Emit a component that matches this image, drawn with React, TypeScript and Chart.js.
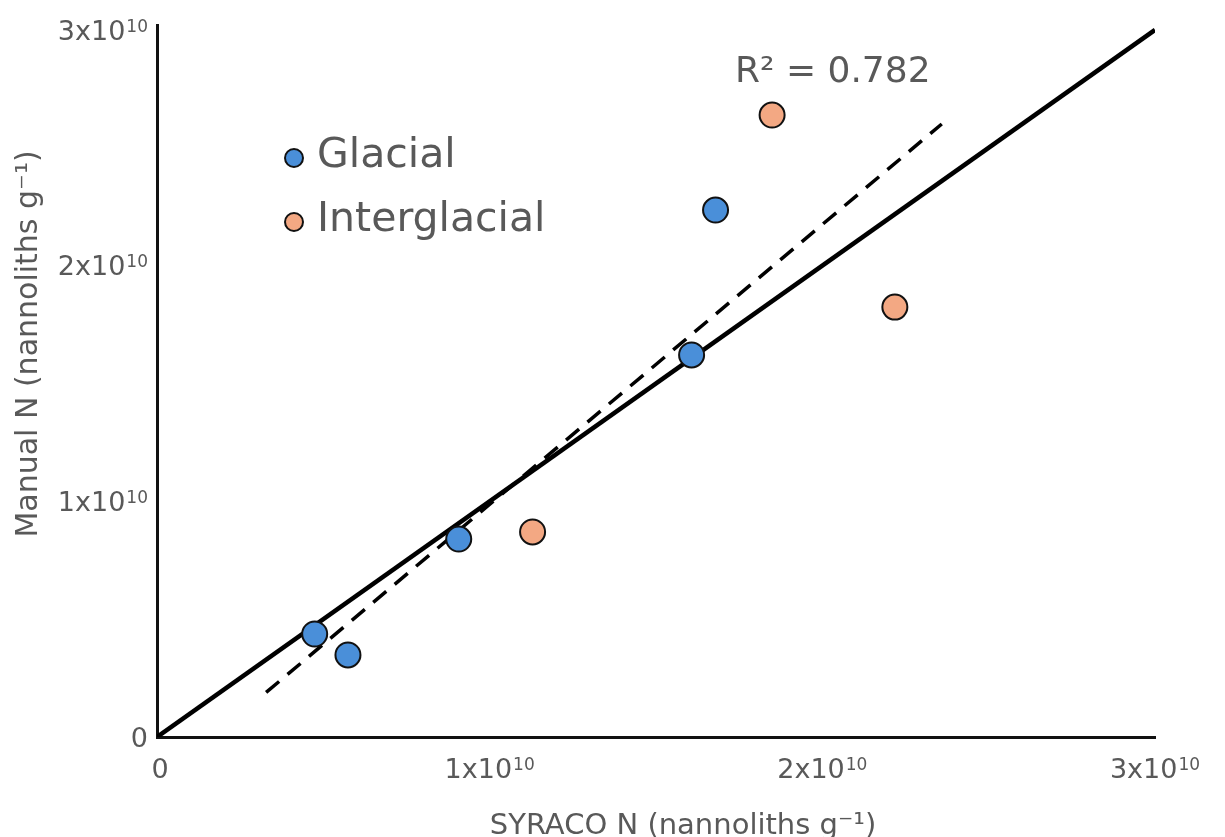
import React, { useEffect, useRef } from "react";
import { Chart, registerables } from "chart.js";

Chart.register(...registerables);

// ---- data ----
const glacialX = [0.474e10, 0.574e10, 0.907e10, 1.607e10, 1.679e10];
const glacialY = [0.437e10, 0.348e10, 0.84e10, 1.621e10, 2.236e10];
const interglacialX = [1.129e10, 1.849e10, 2.218e10];
const interglacialY = [0.87e10, 2.639e10, 1.824e10];
const oneToOneX = [0, 3e10];
const oneToOneY = [0, 3e10];
const fitX = [0.328e10, 2.359e10];
const fitY = [0.189e10, 2.601e10];
const tickValues = [0, 1e10, 2e10, 3e10];
const tickMain = ["0", "1x10", "2x10", "3x10"];
const tickExp = ["", "10", "10", "10"];
const seriesNames = ["Glacial", "Interglacial"];
const r2Label = "R\u00B2 = 0.782";
const xTitle = "SYRACO N (nannoliths g\u207B\u00B9)";
const yTitle = "Manual N (nannoliths g\u207B\u00B9)";

const FONT = "'DejaVu Sans', Verdana, sans-serif";
const TEXT = "#595959";
const BLUE = "#4a8fd9";
const ORANGE = "#f3a883";

const pts = (xs: number[], ys: number[]) => xs.map((x, i) => ({ x, y: ys[i] }));

const MAIN_SIZE = 27;
const SUP_SIZE = 17;

function drawTick(ctx: any, i: number, anchorX: number, baseline: number, align: "center" | "right") {
  ctx.font = `${MAIN_SIZE}px ${FONT}`;
  const wMain = ctx.measureText(tickMain[i]).width;
  ctx.font = `${SUP_SIZE}px ${FONT}`;
  const wSup = tickExp[i] ? ctx.measureText(tickExp[i]).width + 1 : 0;
  const total = wMain + wSup;
  const left = align === "center" ? anchorX - total / 2 : anchorX - total;
  ctx.textAlign = "left";
  ctx.textBaseline = "alphabetic";
  ctx.font = `${MAIN_SIZE}px ${FONT}`;
  ctx.fillText(tickMain[i], left, baseline);
  if (tickExp[i]) {
    ctx.font = `${SUP_SIZE}px ${FONT}`;
    ctx.fillText(tickExp[i], left + wMain + 1, baseline - 0.73 * (MAIN_SIZE - SUP_SIZE) - 1);
  }
}

const annotPlugin = {
  id: "annot",
  afterDraw(chart: any) {
    const ctx = chart.ctx;
    const xs = chart.scales.x;
    const ys = chart.scales.y;
    ctx.save();
    ctx.fillStyle = TEXT;
    // tick labels
    tickValues.forEach((v, i) => {
      const px = xs.getPixelForValue(v);
      drawTick(ctx, i, px + (i === 0 ? 3 : 0), xs.top + 41, "center");
      const py = ys.getPixelForValue(v);
      drawTick(ctx, i, ys.right - 9, py + 0.365 * MAIN_SIZE, "right");
    });
    // legend
    const legendItems = [
      { name: seriesNames[0], color: BLUE, y: 158, base: 167 },
      { name: seriesNames[1], color: ORANGE, y: 222, base: 231 },
    ];
    legendItems.forEach((it) => {
      ctx.beginPath();
      ctx.arc(294, it.y, 9, 0, Math.PI * 2);
      ctx.fillStyle = it.color;
      ctx.fill();
      ctx.lineWidth = 2;
      ctx.strokeStyle = "#111";
      ctx.stroke();
      ctx.fillStyle = TEXT;
      ctx.font = `41px ${FONT}`;
      ctx.textAlign = "left";
      ctx.textBaseline = "alphabetic";
      ctx.fillText(it.name, 317, it.base);
    });
    // R2
    ctx.font = `36px ${FONT}`;
    ctx.fillText(r2Label, 735, 82);
    // x title
    ctx.font = `29px ${FONT}`;
    ctx.textAlign = "center";
    ctx.fillText(xTitle, 683, 834);
    // y title
    ctx.translate(37, 344);
    ctx.rotate(-Math.PI / 2);
    ctx.font = `30px ${FONT}`;
    ctx.fillText(yTitle, 0, 0);
    ctx.restore();
  },
};

export default function App() {
  const ref = useRef<HTMLCanvasElement>(null);
  useEffect(() => {
    if (!ref.current) return;
    const setTicks = (scale: any) => {
      scale.ticks = tickValues.map((v) => ({ value: v }));
    };
    const chart = new Chart(ref.current, {
      type: "scatter",
      data: {
        datasets: [
          {
            label: seriesNames[0],
            data: pts(glacialX, glacialY),
            backgroundColor: BLUE,
            borderColor: "#111",
            borderWidth: 2,
            pointRadius: 12.5,
          },
          {
            label: seriesNames[1],
            data: pts(interglacialX, interglacialY),
            backgroundColor: ORANGE,
            borderColor: "#111",
            borderWidth: 2,
            pointRadius: 12.5,
          },
          {
            label: "fit",
            data: pts(fitX, fitY),
            showLine: true,
            borderColor: "#000",
            borderWidth: 3.5,
            borderDash: [17, 11],
            pointRadius: 0,
          },
          {
            label: "1:1",
            data: pts(oneToOneX, oneToOneY),
            showLine: true,
            borderColor: "#000",
            borderWidth: 4.5,
            pointRadius: 0,
          },
        ],
      },
      options: {
        animation: false,
        responsive: false,
        layout: { padding: { top: 25, right: 70, left: 0, bottom: 0 } },
        plugins: { legend: { display: false }, tooltip: { enabled: false } },
        scales: {
          x: {
            type: "linear",
            min: 0,
            max: 3e10,
            afterBuildTicks: setTicks,
            afterFit: (s: any) => {
              s.height = 100;
            },
            grid: { display: false, drawTicks: false },
            border: { display: true, color: "#111", width: 3 },
            ticks: { display: false },
          },
          y: {
            type: "linear",
            min: 0,
            max: 3.021e10,
            afterBuildTicks: setTicks,
            afterFit: (s: any) => {
              s.width = 157;
            },
            grid: { display: false, drawTicks: false },
            border: { display: true, color: "#111", width: 3 },
            ticks: { display: false },
          },
        },
      },
      plugins: [annotPlugin],
    });
    return () => chart.destroy();
  }, []);
  return (
    <div style={{ position: "absolute", left: 0, top: 0, width: 1225, height: 837, background: "#fff" }}>
      <canvas ref={ref} width={1225} height={837} />
    </div>
  );
}
